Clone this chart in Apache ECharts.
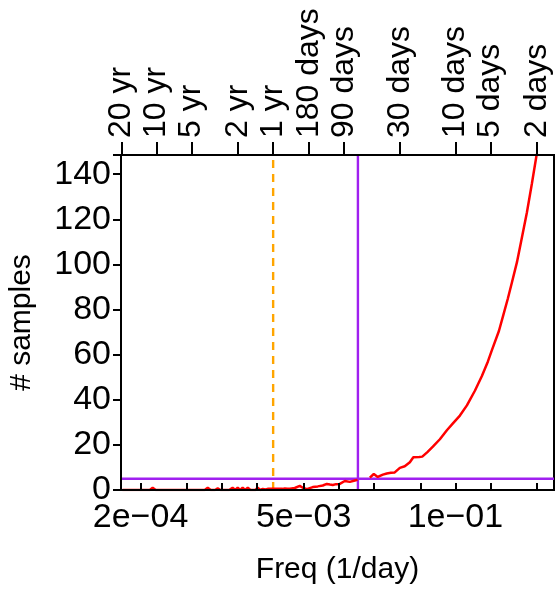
<!DOCTYPE html>
<html><head><meta charset="utf-8">
<script src="https://cdn.jsdelivr.net/npm/echarts@6/dist/echarts.min.js"></script>
<style>html,body{margin:0;padding:0;background:#fff}#c{width:556px;height:595px}</style>
</head><body><div id="c"></div><script>
// frequency (1/day) and number of samples
const freq = [1.40e-4, 1.8e-4, 2.2e-4, 2.40e-4, 2.54e-4, 2.70e-4, 3.5e-4, 4.5e-4, 5.5e-4, 6.5e-4,
  7.1e-4, 7.53e-4, 8.0e-4, 8.7e-4, 9.17e-4, 9.7e-4, 1.05e-3, 1.15e-3, 1.23e-3, 1.30e-3,
  1.36e-3, 1.43e-3, 1.50e-3, 1.58e-3, 1.66e-3, 1.75e-3, 1.83e-3, 1.93e-3, 2.02e-3, 2.12e-3,
  2.23e-3, 2.35e-3, 2.46e-3, 2.59e-3, 2.72e-3, 2.9e-3, 3.12e-3, 3.3e-3, 3.45e-3, 3.63e-3,
  3.81e-3, 4.2e-3, 4.63e-3, 4.92e-3, 5.32e-3, 5.99e-3, 6.61e-3, 7.3e-3, 7.9e-3, 8.4e-3,
  8.89e-3, 9.5e-3, 1.021e-2, 1.127e-2, 1.244e-2, 1.373e-2, 1.45e-2, 1.65e-2, 1.847e-2, 1.998e-2,
  2.16e-2, 2.39e-2, 2.58e-2, 2.8e-2, 3.02e-2, 3.34e-2, 3.68e-2, 4.07e-2, 4.36e-2, 4.9e-2,
  5.2e-2, 5.75e-2, 6.41e-2, 7.36e-2, 8.45e-2, 9.52e-2, 0.1093, 0.1255, 0.1469, 0.1687,
  0.19, 0.2055, 0.236, 0.2556, 0.282, 0.305, 0.337, 0.372, 0.41, 0.453,
  0.5, 0.585, 0.7];
const samples = [0, 0, 0, 0, 1, 0, 0, 0, 0, 0,
  0, 1, 0, 0, 0.7, 0, 0, 0, 1, 0,
  1, 0, 1, 0, 1, 0, 0, 0, 1, 0,
  0.5, 0.2, 0.5, 0.5, 0.5, 0.5, 0.5, 0.5, 0.7, 0.6,
  0.6, 0.9, 1.8, 1.0, 0.4, 1.3, 1.6, 2.0, 2.7, 2.4,
  2.2, 2.6, 2.7, 4.0, 3.6, 4.2, 4.5, null, 5.5, 7.1,
  5.8, 6.8, 7.3, 7.6, 7.8, 9.8, 10.5, 12.3, 14.5, 14.6,
  14.8, 16.8, 19.2, 22.5, 26.5, 29.5, 33, 37.5, 44, 50.5,
  57, 62, 70.5, 77, 85, 92, 101, 112, 123, 136,
  149.5, 175, 210];

const bottomTicks = [2e-4, 5e-4, 1e-3, 2e-3, 5e-3, 1e-2, 2e-2, 5e-2, 0.1, 0.2, 0.5];
const bottomLabelValues = [2e-4, 5e-3, 0.1];
const bottomLabelTexts = ['2e\u221204', '5e\u221203', '1e\u221201'];
const periodDays = [7300, 3650, 1825, 730, 365, 180, 90, 30, 10, 5, 2];
const periodLabels = ['20 yr', '10 yr', '5 yr', '2 yr', '1 yr', '180 days', '90 days', '30 days', '10 days', '5 days', '2 days'];
const yTicks = [0, 20, 40, 60, 80, 100, 120, 140];
const oneYearFreq = 1 / 365;
const cutoffFreq = 0.0146;
const minSamples = 5;

const X_MIN = 1.36e-4, X_MAX = 0.7, Y_MIN = 0, Y_MAX = 148.5;
const periodFreqs = periodDays.map(d => 1 / d);
function pick(v, vals, texts) {
  for (let i = 0; i < vals.length; i++) {
    if (Math.abs(Math.log(v) - Math.log(vals[i])) < 1e-4) return texts[i];
  }
  return '';
}
const FONT = 'Liberation Sans, Arial, Helvetica, sans-serif';
const TICK_FS = 34;
const chart = echarts.init(document.getElementById('c'), null, {renderer: 'canvas'});
chart.setOption({
  animation: false,
  backgroundColor: '#fff',
  grid: {left: 121, right: 2, top: 155, bottom: 105, show: true, borderColor: '#000', borderWidth: 2,
    outerBoundsMode: 'none', containLabel: false},
  xAxis: [{
    type: 'log', logBase: 10, min: X_MIN, max: X_MAX, position: 'bottom', z: 5,
    name: 'Freq (1/day)', nameLocation: 'middle', nameGap: 65,
    nameTextStyle: {color: '#000', fontSize: 30, fontFamily: FONT},
    axisLine: {show: true, onZero: false, lineStyle: {color: '#000', width: 2}},
    axisTick: {show: true, inside: true, length: 7, customValues: bottomTicks, lineStyle: {color: '#000', width: 2}},
    minorTick: {show: false},
    axisLabel: {show: true, customValues: bottomLabelValues, margin: 11, color: '#000', fontSize: TICK_FS, fontFamily: FONT,
      formatter: v => pick(v, bottomLabelValues, bottomLabelTexts)},
    splitLine: {show: false}
  }, {
    type: 'log', logBase: 10, min: X_MIN, max: X_MAX, position: 'top', z: 5,
    axisLine: {show: true, onZero: false, lineStyle: {color: '#000', width: 2}},
    axisTick: {show: true, inside: false, length: 13, customValues: periodFreqs, lineStyle: {color: '#000', width: 2}},
    axisLabel: {show: true, customValues: periodFreqs, rotate: -90, margin: 17, color: '#000', fontSize: 32, fontFamily: FONT,
      formatter: v => pick(v, periodFreqs, periodLabels)},
    splitLine: {show: false}
  }],
  yAxis: {
    type: 'value', min: Y_MIN, max: Y_MAX, interval: 20, z: 5,
    name: '# samples', nameLocation: 'middle', nameGap: 84,
    nameTextStyle: {color: '#000', fontSize: 30, fontFamily: FONT},
    axisLine: {show: true, lineStyle: {color: '#000', width: 2}},
    axisTick: {show: true, inside: false, length: 8, lineStyle: {color: '#000', width: 2}},
    axisLabel: {show: true, margin: 10, color: '#000', fontSize: TICK_FS, fontFamily: FONT,
      formatter: v => (yTicks.indexOf(v) >= 0 ? String(v) : '')},
    splitLine: {show: false}
  },
  series: [{
    type: 'line', xAxisIndex: 0, showSymbol: false, symbol: 'none', clip: true, silent: true, z: 3,
    lineStyle: {color: '#FFA500', width: 2.4, type: [8, 6]},
    data: [[oneYearFreq, Y_MIN], [oneYearFreq, Y_MAX]]
  }, {
    type: 'line', xAxisIndex: 0, showSymbol: false, symbol: 'none', clip: true, silent: true, z: 3,
    lineStyle: {color: '#A020F0', width: 2.4},
    data: [[cutoffFreq, Y_MIN], [cutoffFreq, Y_MAX]]
  }, {
    type: 'line', xAxisIndex: 0, showSymbol: false, symbol: 'none', clip: true, silent: true, z: 3,
    lineStyle: {color: '#A020F0', width: 2.4},
    data: [[X_MIN, minSamples], [X_MAX, minSamples]]
  }, {
    type: 'line', xAxisIndex: 0, yAxisIndex: 0, showSymbol: false, symbol: 'none', clip: true,
    connectNulls: false, z: 4,
    lineStyle: {color: '#ff0000', width: 2.5},
    data: freq.map((f, i) => [f, samples[i] === null ? '-' : samples[i]])
  }]
});
</script></body></html>
